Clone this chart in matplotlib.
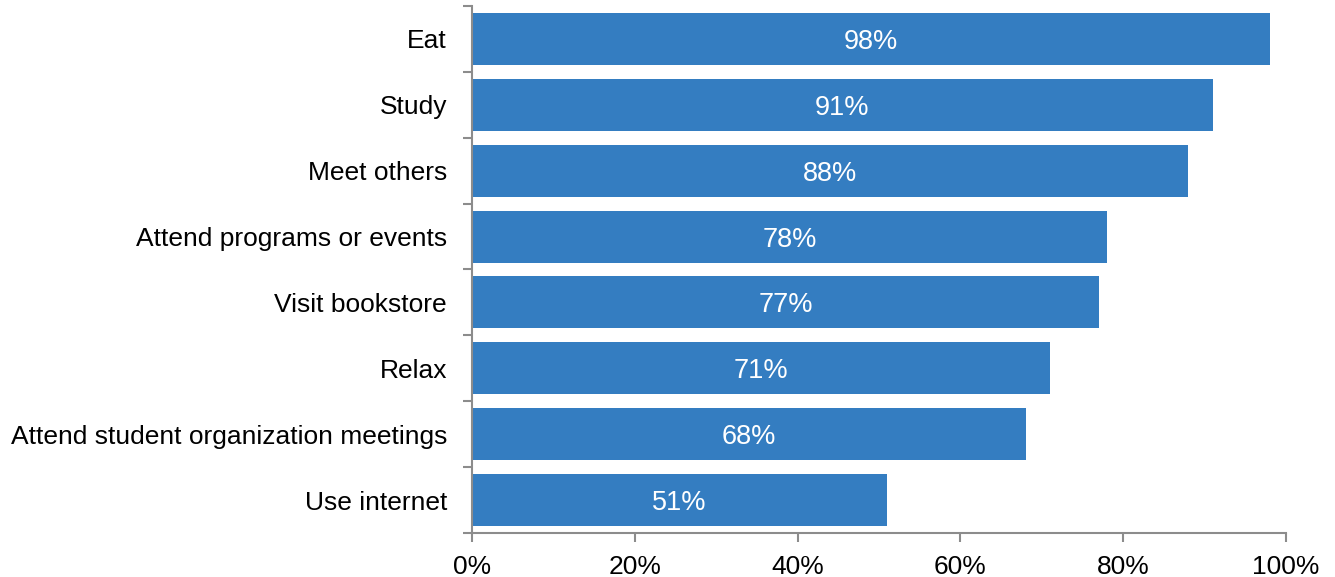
import matplotlib.pyplot as plt
from matplotlib.ticker import FixedLocator, PercentFormatter

plt.rcParams['font.family'] = ['Liberation Sans', 'DejaVu Sans']

activities = ['Eat', 'Study', 'Meet others', 'Attend programs or events',
              'Visit bookstore', 'Relax', 'Attend student organization meetings',
              'Use internet']
shares = [98, 91, 88, 78, 77, 71, 68, 51]

fig = plt.figure(figsize=(13.35, 5.77), dpi=100)
ax = fig.add_axes([0.3536, 0.0763, 0.6097, 0.9133])

pos = list(range(len(activities)))
bars = ax.barh(pos, shares, height=0.79, color='#347DC1')
for b, v in zip(bars, shares):
    ax.text(v / 2, b.get_y() + b.get_height() / 2, f'{v}%', ha='center',
            va='center_baseline', color='white', fontsize=19.5)

ax.set_xlim(0, 100)
ax.set_ylim(len(activities) - 0.5, -0.5)
ax.set_xticks([0, 20, 40, 60, 80, 100])
ax.xaxis.set_major_formatter(PercentFormatter(decimals=0))

# category labels sit between the boundary ticks
ax.set_yticks(pos)
ax.set_yticklabels(activities)
ax.yaxis.set_minor_locator(FixedLocator([p - 0.5 for p in pos] + [len(pos) - 0.5]))
ax.tick_params(axis='y', which='major', length=0, pad=18, labelsize=19)
ax.tick_params(axis='y', which='minor', length=6.5, color='#8c8c8c', width=1.5)
ax.tick_params(axis='x', length=6.5, color='#8c8c8c', width=1.5, labelsize=19, pad=9)

for side in ['top', 'right']:
    ax.spines[side].set_visible(False)
for side in ['left', 'bottom']:
    ax.spines[side].set_color('#8c8c8c')
    ax.spines[side].set_linewidth(1.5)

fig.savefig('out.png', dpi=100)
